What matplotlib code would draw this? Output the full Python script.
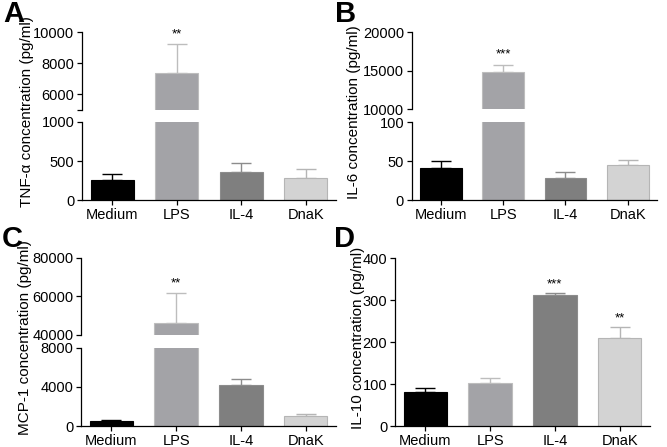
import matplotlib.pyplot as plt

plt.rcParams['font.family'] = ['Liberation Sans', 'DejaVu Sans']

groups = ["Medium", "LPS", "IL-4", "DnaK"]
colors = ["#000000", "#a3a3a7", "#7f7f7f", "#d3d3d3"]
edges = ["#000000", "#bdbdbd", "#8c8c8c", "#b5b5b5"]

tnf_mean = [260, 7400, 365, 285]
tnf_err = [80, 1800, 105, 110]
tnf_stars = ["", "**", "", ""]

il6_mean = [42, 14800, 29, 45]
il6_err = [8, 900, 7, 7]
il6_stars = ["", "***", "", ""]

mcp_mean = [550, 46000, 4200, 1050]
mcp_err = [60, 15700, 600, 200]
mcp_stars = ["", "**", "", ""]

il10_mean = [82, 104, 313, 209]
il10_err = [8, 10, 4, 26]
il10_stars = ["", "", "***", "**"]

W, H = 667, 447
fig = plt.figure(figsize=(W / 100, H / 100), dpi=100)


def ax_at(x0, x1, ytop, ybot):
    return fig.add_axes([x0 / W, 1 - ybot / H, (x1 - x0) / W, (ybot - ytop) / H])


def style(ax):
    for s in ["top", "right"]:
        ax.spines[s].set_visible(False)
    for s in ["left", "bottom"]:
        ax.spines[s].set_linewidth(0.9)
    ax.tick_params(direction="out", length=3.5, width=0.9, labelsize=10.5, pad=2)
    ax.set_xlim(-0.47, 3.47)


def draw_bars(ax, mean, err):
    x = range(len(groups))
    ax.bar(x, mean, width=0.67, color=colors, edgecolor=edges, linewidth=0.8, zorder=2)
    for i in x:
        ax.errorbar(i, mean[i], yerr=[[0], [err[i]]], fmt="none", ecolor=edges[i] if i else "black",
                    elinewidth=1, capsize=7.5, capthick=1, zorder=1)


def stars(ax, mean, err, marks, off):
    for i, m in enumerate(marks):
        if m:
            ax.text(i, mean[i] + err[i] + off, m, ha="center", va="bottom", fontsize=9.5)


def broken(x0, x1, ytop, ymid1, ymid2, ybot, mean, err, marks, up_lim, up_ticks, up_labels,
           lo_lim, lo_ticks, star_off):
    up = ax_at(x0, x1, ytop, ymid1)
    lo = ax_at(x0, x1, ymid2, ybot)
    for ax in (up, lo):
        style(ax)
        draw_bars(ax, mean, err)
    up.set_ylim(*up_lim)
    up.set_yticks(up_ticks)
    up.set_yticklabels(up_labels)
    up.spines["bottom"].set_visible(False)
    up.tick_params(axis="x", bottom=False, labelbottom=False)
    lo.set_ylim(*lo_lim)
    lo.set_yticks(lo_ticks)
    lo.set_xticks(range(len(groups)))
    lo.set_xticklabels(groups)
    stars(up, mean, err, marks, star_off)
    return up, lo


# A
broken(82, 336, 32, 110, 122, 200.3, tnf_mean, tnf_err, tnf_stars,
       (5000, 10000), [5000, 6000, 8000, 10000], ["", "6000", "8000", "10000"],
       (0, 1000), [0, 500, 1000], 250)
# B
broken(411.7, 657, 32, 109.3, 122.3, 200.3, il6_mean, il6_err, il6_stars,
       (10000, 20000), [10000, 15000, 20000], ["10000", "15000", "20000"],
       (0, 100), [0, 50, 100], 600)
# C
broken(81, 336, 257.7, 335, 347.7, 426.3, mcp_mean, mcp_err, mcp_stars,
       (40000, 80000), [40000, 60000, 80000], ["40000", "60000", "80000"],
       (0, 8000), [0, 4000, 8000], 2000)

# D
d = ax_at(395, 650, 258, 426.3)
style(d)
draw_bars(d, il10_mean, il10_err)
d.set_ylim(0, 400)
d.set_yticks([0, 100, 200, 300, 400])
d.set_xticks(range(len(groups)))
d.set_xticklabels(groups)
stars(d, il10_mean, il10_err, il10_stars, 6)

# y labels
fig.text(27 / W, 1 - 112 / H, "TNF-\u03b1 concentration (pg/ml)", rotation=90, ha="center", va="center", fontsize=11)
fig.text(354 / W, 1 - 112 / H, "IL-6 concentration (pg/ml)", rotation=90, ha="center", va="center", fontsize=11)
fig.text(25 / W, 1 - 338 / H, "MCP-1 concentration (pg/ml)", rotation=90, ha="center", va="center", fontsize=11)
fig.text(358 / W, 1 - 338 / H, "IL-10 concentration (pg/ml)", rotation=90, ha="center", va="center", fontsize=11)

# panel letters
for lab, x, y in [("A", 14, 14), ("B", 346, 14), ("C", 12, 239), ("D", 345, 239)]:
    fig.text(x / W, 1 - y / H, lab, ha="center", va="center", fontsize=21, fontweight="bold")

fig.savefig("out.png", dpi=100)
